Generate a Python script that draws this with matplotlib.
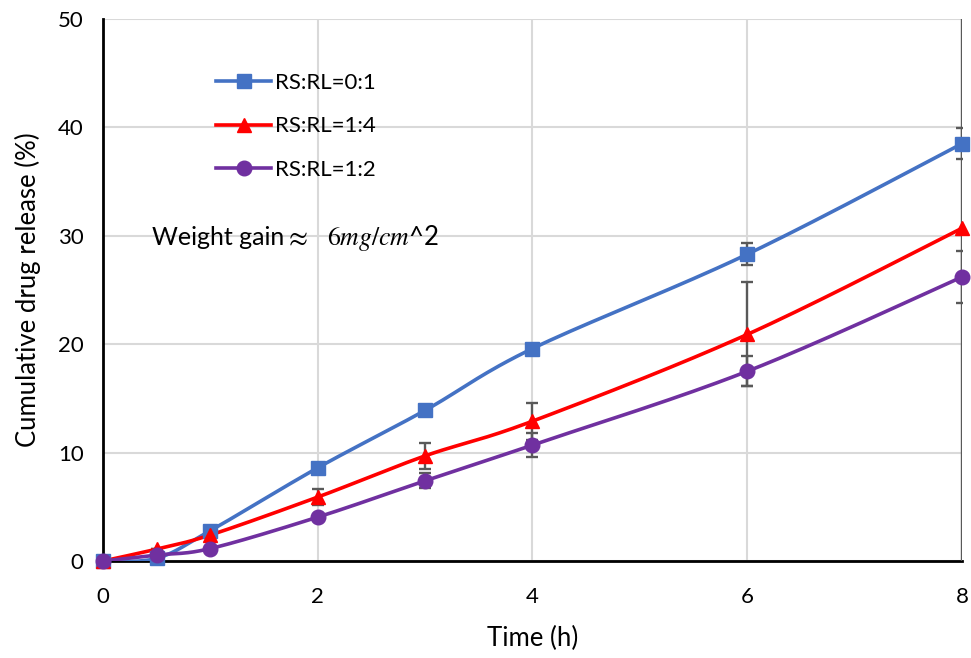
import numpy as np
import matplotlib.pyplot as plt

plt.rcParams['font.family'] = ['Lato', 'DejaVu Sans']
plt.rcParams['mathtext.fontset'] = 'stix'

time_h = [0, 0.5, 1, 2, 3, 4, 6, 8]
labels = ["RS:RL=0:1", "RS:RL=1:4", "RS:RL=1:2"]

rel_01 = [0, 0.25, 2.8, 8.6, 13.9, 19.6, 28.3, 38.5]
err_01 = [0, 0.3, 0, 0, 0, 0, 1.0, 1.4]
rel_14 = [0, 1.1, 2.4, 5.9, 9.7, 12.9, 20.9, 30.7]
err_14 = [0, 0, 0, 0.75, 1.2, 1.7, 4.8, 31]
rel_12 = [0, 0.55, 1.15, 4.05, 7.4, 10.7, 17.5, 26.2]
err_12 = [0, 0, 0, 0, 0.7, 1.1, 1.4, 2.4]

colors = ["#4472C4", "#FF0000", "#7030A0"]
markers = ["s", "^", "o"]


def smooth(x, y, sx=107.4, sy=10.84, n=30):
    # bezier smoothing like a spreadsheet "smoothed line", done in pixel-ish units
    p = np.column_stack([np.asarray(x) * sx, np.asarray(y) * sy])
    pts = []
    for i in range(len(p) - 1):
        p0 = p[i - 1] if i > 0 else p[i]
        p1, p2 = p[i], p[i + 1]
        p3 = p[i + 2] if i + 2 < len(p) else p[i + 1]
        c1 = p1 + (p2 - p0) / 6
        c2 = p2 - (p3 - p1) / 6
        t = np.linspace(0, 1, n)[:, None]
        seg = (1 - t) ** 3 * p1 + 3 * (1 - t) ** 2 * t * c1 + 3 * (1 - t) * t ** 2 * c2 + t ** 3 * p2
        pts.append(seg)
    pts = np.vstack(pts)
    return pts[:, 0] / sx, pts[:, 1] / sy


fig = plt.figure(figsize=(9.71, 6.58), dpi=100)
ax = fig.add_axes([0.1061, 0.1474, 0.8846, 0.8237])

for y, e, c, m, lab in zip([rel_01, rel_14, rel_12], [err_01, err_14, err_12], colors, markers, labels):
    ax.errorbar(time_h, y, yerr=e, fmt='none', ecolor='#595959', elinewidth=1.7,
                capsize=4.5, capthick=1.7, zorder=3)
    xs, ys = smooth(time_h, y)
    ax.plot(xs, ys, color=c, lw=2.6, zorder=4)
    ax.plot(time_h, y, linestyle='none', marker=m, color=c, markersize=10.5, zorder=5, clip_on=False)
    ax.plot([], [], color=c, lw=2.6, marker=m, markersize=10.5, label=lab)

ax.set_xlim(0, 8)
ax.set_ylim(0, 50)
ax.set_xticks([0, 2, 4, 6, 8])
ax.set_yticks([0, 10, 20, 30, 40, 50])
ax.grid(True, color='#d9d9d9', lw=1.5)
ax.set_axisbelow(True)
ax.tick_params(length=0, labelsize=16)
ax.tick_params(axis='x', pad=19)
ax.tick_params(axis='y', pad=14)
for s in ['top', 'right']:
    ax.spines[s].set_visible(False)
for s in ['left', 'bottom']:
    ax.spines[s].set_linewidth(2)
    ax.spines[s].set_color('black')

ax.set_xlabel("Time (h)", fontsize=18.5, labelpad=13)
ax.set_ylabel("Cumulative drug release (%)", fontsize=18.5, labelpad=12)

# coating weight note
ax.text(0.46, 29.8, "Weight gain", fontsize=18, va='center')
ax.text(1.69, 29.8, r"$\approx$", fontsize=20, va='center')
ax.text(2.09, 29.8, r"$6mg/cm$^2", fontsize=18.5, va='center')

ax.legend(loc='upper left', bbox_to_anchor=(0.108, 0.937), frameon=False, fontsize=16,
          handlelength=2.5, handletextpad=0.15, labelspacing=1.05)

fig.savefig("out.png", dpi=100)
